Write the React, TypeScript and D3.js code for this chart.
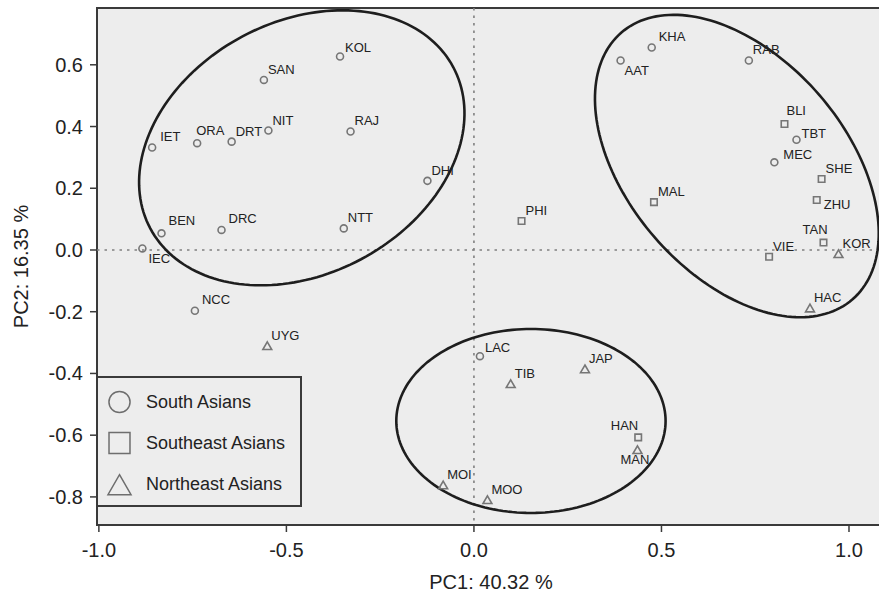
import { useEffect, useRef } from "react";
import * as d3 from "d3";

// populations and their PCA scores
const populations = [
  "KOL", "SAN", "NIT", "RAJ", "IET", "ORA", "DRT", "DHI", "BEN", "DRC", "NTT", "IEC", "NCC",
  "KHA", "AAT", "RAB", "TBT", "MEC", "LAC",
  "BLI", "SHE", "ZHU", "MAL", "PHI", "TAN", "VIE", "HAN",
  "KOR", "HAC", "UYG", "JAP", "TIB", "MAN", "MOI", "MOO",
];
const pc1 = [
  -0.357, -0.56, -0.548, -0.329, -0.858, -0.738, -0.646, -0.124, -0.833, -0.673, -0.347, -0.884, -0.744,
  0.474, 0.391, 0.733, 0.86, 0.801, 0.016,
  0.828, 0.927, 0.914, 0.48, 0.127, 0.932, 0.787, 0.438,
  0.972, 0.896, -0.551, 0.296, 0.098, 0.436, -0.082, 0.036,
];
const pc2 = [
  0.627, 0.551, 0.387, 0.384, 0.332, 0.346, 0.351, 0.224, 0.054, 0.065, 0.07, 0.005, -0.197,
  0.656, 0.614, 0.614, 0.357, 0.284, -0.344,
  0.408, 0.23, 0.162, 0.155, 0.094, 0.024, -0.022, -0.607,
  -0.013, -0.189, -0.311, -0.386, -0.434, -0.648, -0.762, -0.81,
];
const groups = [
  "South Asians", "South Asians", "South Asians", "South Asians", "South Asians", "South Asians",
  "South Asians", "South Asians", "South Asians", "South Asians", "South Asians", "South Asians", "South Asians",
  "South Asians", "South Asians", "South Asians", "South Asians", "South Asians", "South Asians",
  "Southeast Asians", "Southeast Asians", "Southeast Asians", "Southeast Asians",
  "Southeast Asians", "Southeast Asians", "Southeast Asians", "Southeast Asians",
  "Northeast Asians", "Northeast Asians", "Northeast Asians", "Northeast Asians",
  "Northeast Asians", "Northeast Asians", "Northeast Asians", "Northeast Asians",
];
const legendGroups = ["South Asians", "Southeast Asians", "Northeast Asians"];

// cluster ellipses: centre and two half-axis vectors, in PC units
const ellipseCenters = [[-0.459, 0.331], [0.701, 0.272], [0.152, -0.554]];
const ellipseMajor = [[0.404, 0.261], [0.3085, -0.4318], [0.359, 0]];
const ellipseMinor = [[0.158, -0.361], [0.219, 0.2314], [0, 0.298]];

const xTicks = [-1.0, -0.5, 0.0, 0.5, 1.0];
const yTicks = [-0.8, -0.6, -0.4, -0.2, 0.0, 0.2, 0.4, 0.6];

// label placement exceptions (px), default is up-right of the marker
const labelNudge: Record<string, [number, number, string]> = {
  IEC: [6, 15, "start"],
  AAT: [4, 15, "start"],
  ZHU: [7, 9, "start"],
  MAN: [-17, 14, "start"],
  HAN: [0, -7, "end"],
  TAN: [-21, -9, "start"],
  TBT: [5, -2, "start"],
  MEC: [9, -3, "start"],
  IET: [8, -7, "start"],
  BEN: [7, -8, "start"],
  DRC: [7, -7, "start"],
  NCC: [7, -7, "start"],
  KHA: [7, -7, "start"],
  ORA: [-1, -8, "start"],
  BLI: [2, -9, "start"],
  KOL: [5, -4, "start"],
  LAC: [5, -4, "start"],
};

const FONT = "'Liberation Sans', Arial, sans-serif";
const W = 879;
const H = 593;

function symbolFor(g: string, size: number) {
  if (g === "South Asians") return d3.symbol(d3.symbolCircle, size)();
  if (g === "Southeast Asians") return d3.symbol(d3.symbolSquare, size)();
  return d3.symbol(d3.symbolTriangle, size)();
}

function PcaPlot() {
  const ref = useRef<SVGSVGElement>(null);

  useEffect(() => {
    const svg = d3.select(ref.current);
    svg.selectAll("*").remove();

    const x = d3.scaleLinear().domain([-1.005, 1.096]).range([97, 885]);
    const y = d3.scaleLinear().domain([-0.891, 0.784]).range([525, 8]);
    const [x0, x1] = x.range();
    const [y0, y1] = y.range();

    // panel
    svg.append("rect")
      .attr("x", x0).attr("y", y1)
      .attr("width", x1 - x0).attr("height", y0 - y1)
      .attr("fill", "#ededed")
      .attr("stroke", "#3a3a3a")
      .attr("stroke-width", 2);

    // zero lines
    svg.append("line")
      .attr("x1", x(0)).attr("x2", x(0)).attr("y1", y1).attr("y2", y0)
      .attr("stroke", "#808080").attr("stroke-width", 1.6).attr("stroke-dasharray", "2.5,5");
    svg.append("line")
      .attr("x1", x0).attr("x2", x1).attr("y1", y(0)).attr("y2", y(0))
      .attr("stroke", "#808080").attr("stroke-width", 1.6).attr("stroke-dasharray", "2.5,5");

    // ticks
    const xt = svg.append("g");
    xt.selectAll("line").data(xTicks).enter().append("line")
      .attr("x1", d => x(d)).attr("x2", d => x(d))
      .attr("y1", y0).attr("y2", y0 + 7)
      .attr("stroke", "#3a3a3a").attr("stroke-width", 1.5);
    xt.selectAll("text").data(xTicks).enter().append("text")
      .attr("x", d => x(d)).attr("y", 557)
      .attr("text-anchor", "middle")
      .attr("font-family", FONT).attr("font-size", 20).attr("fill", "#222")
      .text(d => d3.format(".1f")(d).replace("−", "-"));

    const yt = svg.append("g");
    yt.selectAll("line").data(yTicks).enter().append("line")
      .attr("x1", x0 - 7).attr("x2", x0)
      .attr("y1", d => y(d)).attr("y2", d => y(d))
      .attr("stroke", "#3a3a3a").attr("stroke-width", 1.5);
    yt.selectAll("text").data(yTicks).enter().append("text")
      .attr("x", 83).attr("y", d => y(d) + 7)
      .attr("text-anchor", "end")
      .attr("font-family", FONT).attr("font-size", 20).attr("fill", "#222")
      .text(d => d3.format(".1f")(d).replace("−", "-"));

    // axis titles
    svg.append("text")
      .attr("x", (x0 + x1) / 2).attr("y", 589)
      .attr("text-anchor", "middle")
      .attr("font-family", FONT).attr("font-size", 20).attr("fill", "#222")
      .text("PC1: 40.32 %");
    svg.append("text")
      .attr("transform", `translate(28,${(y0 + y1) / 2}) rotate(-90)`)
      .attr("text-anchor", "middle")
      .attr("font-family", FONT).attr("font-size", 20).attr("fill", "#222")
      .text("PC2: 16.35 %");

    // ellipses
    const line = d3.line<[number, number]>().x(d => x(d[0])).y(d => y(d[1])).curve(d3.curveLinearClosed);
    ellipseCenters.forEach((c, i) => {
      const pts: [number, number][] = d3.range(0, 360, 2).map(deg => {
        const t = (deg * Math.PI) / 180;
        return [
          c[0] + Math.cos(t) * ellipseMajor[i][0] + Math.sin(t) * ellipseMinor[i][0],
          c[1] + Math.cos(t) * ellipseMajor[i][1] + Math.sin(t) * ellipseMinor[i][1],
        ];
      });
      svg.append("path")
        .attr("d", line(pts))
        .attr("fill", "none")
        .attr("stroke", "#1e1e1e")
        .attr("stroke-width", 2.6);
    });

    // points
    const pts = svg.append("g");
    populations.forEach((name, i) => {
      const px = x(pc1[i]);
      const py = y(pc2[i]);
      const g = groups[i];
      const size = g === "South Asians" ? 38 : g === "Southeast Asians" ? 42 : 34;
      pts.append("path")
        .attr("d", symbolFor(g, size))
        .attr("transform", `translate(${px},${py + (g === "Northeast Asians" ? 1 : 0)})`)
        .attr("fill", "none")
        .attr("stroke", "#767676")
        .attr("stroke-width", 1.6);
      const [dx, dy, anchor] = labelNudge[name] || [4, -6, "start"];
      pts.append("text")
        .attr("x", px + dx).attr("y", py + dy)
        .attr("text-anchor", anchor)
        .attr("font-family", FONT).attr("font-size", 13).attr("fill", "#222")
        .text(name);
    });

    // legend
    const lg = svg.append("g");
    lg.append("rect")
      .attr("x", x0).attr("y", 377)
      .attr("width", 301 - x0).attr("height", 129)
      .attr("fill", "#ededed")
      .attr("stroke", "#3a3a3a")
      .attr("stroke-width", 2);
    legendGroups.forEach((g, i) => {
      const cy = 402 + i * 41;
      const size = g === "South Asians" ? 350 : g === "Southeast Asians" ? 440 : 230;
      lg.append("path")
        .attr("d", symbolFor(g, size))
        .attr("transform", `translate(119.5,${cy + (g === "Northeast Asians" ? 4 : 0)})`)
        .attr("fill", "none")
        .attr("stroke", "#6e6e6e")
        .attr("stroke-width", 1.5);
      lg.append("text")
        .attr("x", 146).attr("y", cy + 6)
        .attr("font-family", FONT).attr("font-size", 18).attr("fill", "#222")
        .text(g);
    });
  }, []);

  return (
    <svg ref={ref} width={W} height={H} style={{ position: "absolute", left: 0, top: 0, background: "#fff" }} />
  );
}

export default function App() {
  return <PcaPlot />;
}
